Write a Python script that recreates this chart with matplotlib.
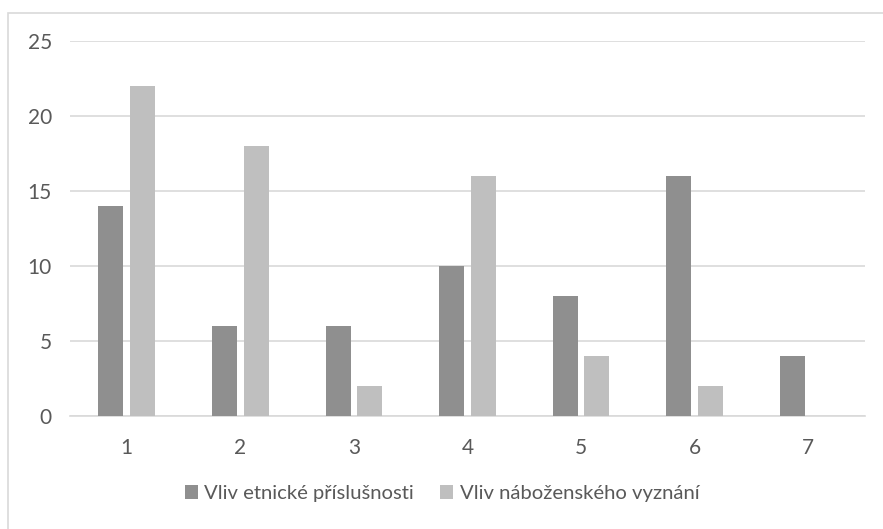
import numpy as np
import matplotlib.pyplot as plt
from matplotlib.patches import Rectangle

plt.rcParams['font.family'] = ['Lato', 'DejaVu Sans']

categories = ['1', '2', '3', '4', '5', '6', '7']
etnicke = [14, 6, 6, 10, 8, 16, 4]
nabozenske = [22, 18, 2, 16, 4, 2, 0]
labels = ['Vliv etnické příslušnosti', 'Vliv náboženského vyznání']

fig = plt.figure(figsize=(8.83, 5.29), dpi=100)
# chart area border (only left and top edges visible in the crop)
fig.patches.append(Rectangle((8 / 883, -0.1), 1.2, 1.1 - 13 / 529, transform=fig.transFigure,
                             fill=False, edgecolor='#d9d9d9', linewidth=1.2))
ax = fig.add_axes([70 / 883, 113 / 529, 795 / 883, 375 / 529])

x = np.arange(len(categories))
w = 0.22
gap = 0.06
ax.bar(x - (w + gap) / 2, etnicke, w, color='#8f8f8f', label=labels[0], zorder=3)
ax.bar(x + (w + gap) / 2, nabozenske, w, color='#bfbfbf', label=labels[1], zorder=3)

ax.set_xlim(-0.5, len(categories) - 0.5)
ax.set_ylim(0, 25)
ax.set_yticks(np.arange(0, 26, 5))
ax.set_xticks(x)
ax.set_xticklabels(categories)
ax.yaxis.grid(True, color='#d9d9d9', linewidth=1.2, zorder=0)
for s in ['top', 'right', 'left']:
    ax.spines[s].set_visible(False)
ax.spines['bottom'].set_color('#d9d9d9')
ax.spines['bottom'].set_linewidth(1.2)
ax.tick_params(length=0, labelsize=15, colors='#595959')
ax.tick_params(axis='x', pad=16)
ax.tick_params(axis='y', pad=13)

ax.legend(loc='upper center', bbox_to_anchor=(0.468, -0.135), ncol=2, frameon=False,
          fontsize=14.6, labelcolor='#595959', handlelength=0.65, handleheight=0.65,
          handletextpad=0.3, columnspacing=1.3)

fig.savefig('out.png', dpi=100)
